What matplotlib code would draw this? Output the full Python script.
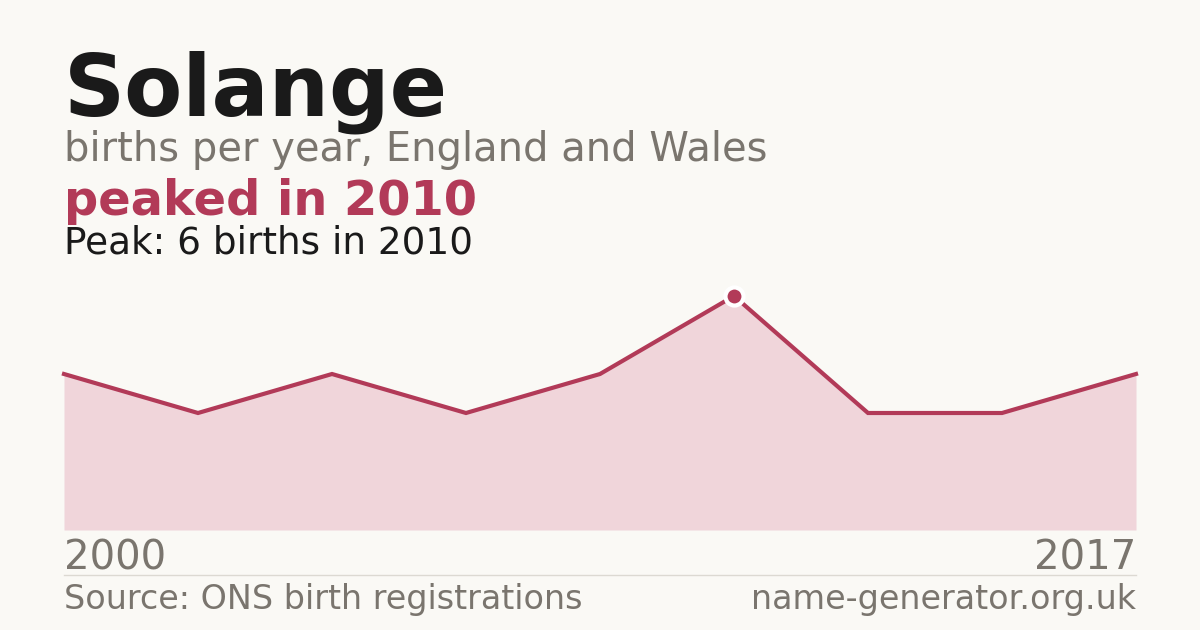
import matplotlib
matplotlib.use('Agg')
import matplotlib.pyplot as plt
from matplotlib.lines import Line2D

# data (points plotted at even spacing)
years = [2000, 2002, 2004, 2006, 2008, 2010, 2012, 2015, 2017]
births = [4, 3, 4, 3, 4, 6, 3, 3, 4]
peak_year = 2010
peak_value = 6

BG = '#faf9f5'
RED = '#b23a58'
FILL = '#f0d5da'
GREY = '#7a756e'
DARK = '#1a1a1a'

W, H = 1200, 630
fig = plt.figure(figsize=(12, 6.3), dpi=100, facecolor=BG)

def fx(px): return px / W
def fy(py): return 1 - py / H

# plot area: baseline at y=530, peak value sits at y=296
ax = fig.add_axes([fx(64), fy(530), fx(1136 - 64), (530 - 296) / H])
ax.set_facecolor('none')
xs = list(range(len(years)))
ax.fill_between(xs, births, 0, color=FILL, lw=0)
ax.plot(xs, births, color=RED, lw=3, solid_joinstyle='miter', clip_on=False)
ip = years.index(peak_year)
ax.plot([xs[ip]], [births[ip]], marker='o', ms=13, color=RED, mec='white', mew=3,
        clip_on=False, zorder=5)
ax.set_xlim(0, len(years) - 1)
ax.set_ylim(0, peak_value)
ax.axis('off')

fam = 'DejaVu Sans'
fig.text(fx(64), fy(115), 'Solange', fontsize=61, fontweight='bold', color=DARK,
         family=fam, va='baseline')
fig.text(fx(64), fy(161), 'births per year, England and Wales', fontsize=28.8,
         color=GREY, family=fam, va='baseline')
fig.text(fx(64), fy(215), 'peaked in %d' % peak_year, fontsize=34.5, fontweight='bold',
         color=RED, family=fam, va='baseline')
fig.text(fx(64), fy(254), 'Peak: %d births in %d' % (peak_value, peak_year), fontsize=26.9,
         color=DARK, family=fam, va='baseline')

fig.text(fx(64), fy(570), str(years[0]), fontsize=29, color=GREY, family=fam, va='baseline')
fig.text(fx(1136), fy(570), str(years[-1]), fontsize=29, color=GREY, family=fam,
         va='baseline', ha='right')
fig.add_artist(Line2D([fx(64), fx(1136)], [fy(575), fy(575)], color='#dcd9d2', lw=1))
fig.text(fx(64), fy(609), 'Source: ONS birth registrations', fontsize=24, color=GREY,
         family=fam, va='baseline')
fig.text(fx(1136), fy(609), 'name-generator.org.uk', fontsize=24, color=GREY,
         family=fam, va='baseline', ha='right')

fig.savefig('out.png', dpi=100, facecolor=BG)
